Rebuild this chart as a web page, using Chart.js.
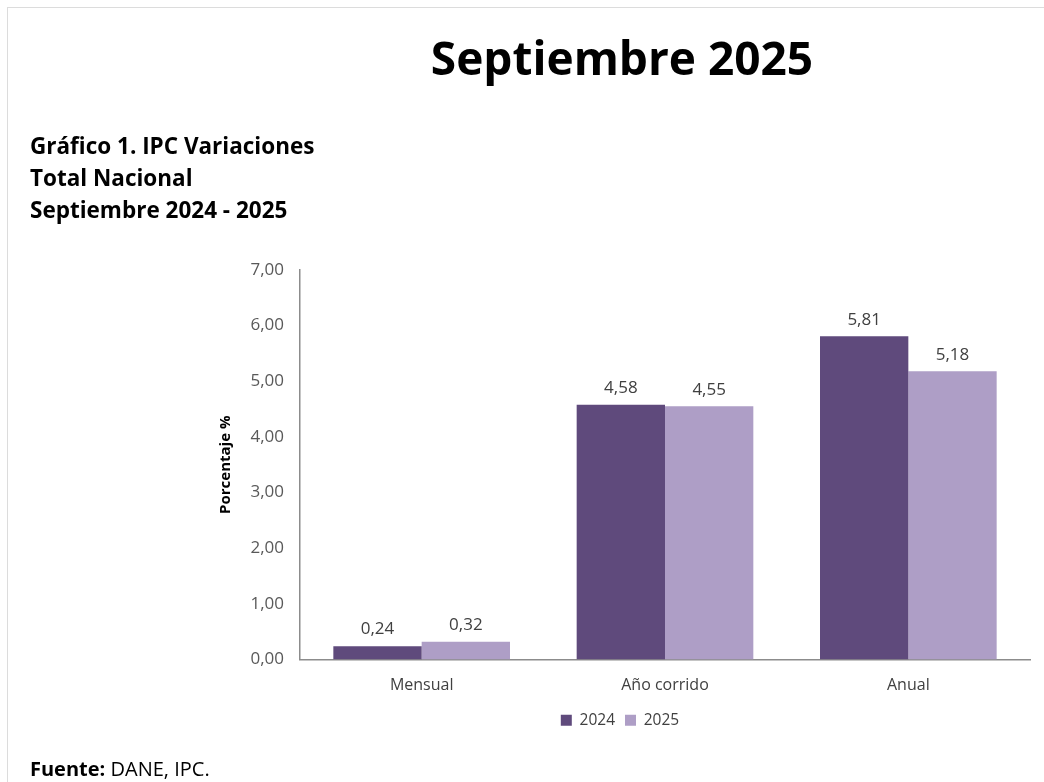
<!DOCTYPE html>
<html lang="es">
<head>
  <meta charset="UTF-8" />
  <title>IPC Variaciones Septiembre 2025</title>
  <script src="https://cdn.jsdelivr.net/npm/chart.js"></script>
  <style>
    body { margin: 0; background: #fff; font-family: "Open Sans", sans-serif; }
    #page { position: relative; width: 1044px; height: 782px; overflow: hidden; }
    #frame { position: absolute; left: 7px; top: 7px; right: -2px; bottom: -2px; border-top: 1px solid #dcdcdc; border-left: 1px solid #dcdcdc; }
    #chartCanvas { position: absolute; left: 0; top: 0; }
    .txt { position: absolute; color: #000; white-space: nowrap; }
    #title { left: 200px; width: 844px; top: 34px; text-align: center; font-size: 46px; line-height: 46px; font-weight: 700; }
    #subtitle { left: 30px; top: 130px; font-size: 22.5px; line-height: 32px; font-weight: 700; }
    #source { left: 30px; top: 759px; font-size: 20px; line-height: 20px; }
  </style>
</head>
<body>
  <div id="page">
    <div id="frame"></div>
    <canvas id="chartCanvas" width="1044" height="782"></canvas>
    <div class="txt" id="title">Septiembre 2025</div>
    <div class="txt" id="subtitle">Gráfico 1. IPC Variaciones<br>Total Nacional<br>Septiembre 2024 - 2025</div>
    <div class="txt" id="source"><b>Fuente:</b> DANE, IPC.</div>
  </div>

  <script>
    // categories and values
    const categories = ["Mensual", "Año corrido", "Anual"];
    const values2024 = [0.24, 4.58, 5.81];
    const values2025 = [0.32, 4.55, 5.18];
    const seriesNames = ["2024", "2025"];

    const fmt = v => Number(v).toFixed(2).replace(".", ",");
    const FONT = "'Open Sans', sans-serif";

    // draws the value above every bar
    const valueLabels = {
      id: "valueLabels",
      afterDatasetsDraw(chart) {
        const ctx = chart.ctx;
        ctx.save();
        ctx.font = "17px " + FONT;
        ctx.fillStyle = "#404040";
        ctx.textAlign = "center";
        ctx.textBaseline = "bottom";
        chart.data.datasets.forEach((ds, i) => {
          chart.getDatasetMeta(i).data.forEach((bar, j) => {
            ctx.fillText(fmt(ds.data[j]), bar.x, bar.y - 8);
          });
        });
        ctx.restore();
      }
    };

    new Chart(document.getElementById("chartCanvas"), {
      type: "bar",
      data: {
        labels: categories,
        datasets: [
          { label: seriesNames[0], data: values2024, backgroundColor: "#5f4a7c" },
          { label: seriesNames[1], data: values2025, backgroundColor: "#ae9ec6" }
        ]
      },
      options: {
        responsive: false,
        animation: false,
        layout: { padding: { left: 210, top: 270, right: 14, bottom: 44 } },
        datasets: { bar: { categoryPercentage: 0.726, barPercentage: 1.0 } },
        plugins: {
          legend: {
            position: "bottom",
            labels: {
              boxWidth: 11, boxHeight: 11, padding: 10,
              color: "#404040",
              font: { family: FONT, size: 15.5 }
            }
          },
          tooltip: { enabled: false }
        },
        scales: {
          x: {
            grid: { display: false, drawTicks: false },
            border: { display: true, color: "#8c8c8c", width: 1.5 },
            ticks: { color: "#404040", padding: 16, font: { family: FONT, size: 16 } },
            afterFit: s => { s.height = 43; }
          },
          y: {
            min: 0, max: 7,
            grid: { display: false, drawTicks: false },
            border: { display: true, color: "#8c8c8c", width: 1.5 },
            ticks: { stepSize: 1, color: "#595959", padding: 16, font: { family: FONT, size: 17 }, callback: v => fmt(v) },
            title: { display: true, text: "Porcentaje %", color: "#000", font: { family: FONT, size: 15, weight: "bold" }, padding: { top: 7, bottom: 0 } },
            afterFit: s => { s.width = 90; }
          }
        }
      },
      plugins: [valueLabels]
    });
  </script>
</body>
</html>
